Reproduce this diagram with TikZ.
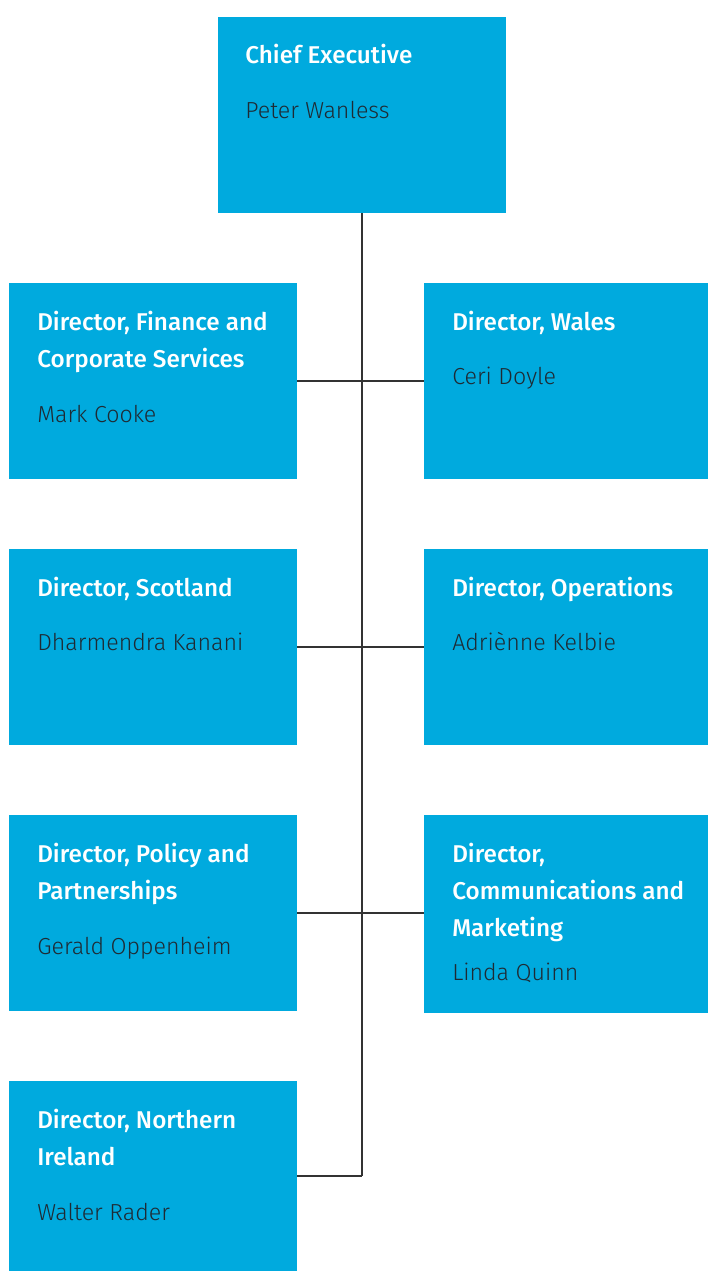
\documentclass[tikz,border=0pt]{standalone}
\usepackage{fontspec}
\setmainfont{Fira Sans}[BoldFont={Fira Sans Medium}]
\newfontfamily\namefont{Fira Sans Light}
\usepackage{xcolor}
\definecolor{postblue}{HTML}{00AADE}
\definecolor{namegray}{HTML}{1F2A33}
\definecolor{linegray}{HTML}{333333}

\tikzset{
  post/.style={fill=postblue, inner sep=0pt, minimum width=216pt, minimum height=147pt},
  posttitle/.style={anchor=base west, inner sep=0pt, align=left, text=white,
    font=\fontsize{18.2pt}{27.75pt}\selectfont\bfseries},
  postname/.style={anchor=base west, inner sep=0pt, text=namegray,
    font=\fontsize{17.4pt}{27.75pt}\namefont},
  link/.style={draw=linegray, line width=1.1pt}
}

\begin{document}
\begin{tikzpicture}[x=0.75pt,y=-0.75pt]
  \useasboundingbox (0,0) rectangle (708,1271);

  % boxes
  \node[post] (ceo) at (362,115) {};
  \node[post] (finance) at (153,381) {};
  \node[post, minimum width=213pt] (wales) at (566,381) {};
  \node[post] (scotland) at (153,647) {};
  \node[post, minimum width=213pt] (operations) at (566,647) {};
  \node[post] (policy) at (153,913) {};
  \node[post, minimum width=213pt, minimum height=148.5pt] (comms) at (566,914) {};
  \node[post, minimum height=142.5pt] (nireland) at (153,1176) {};

  % connectors
  \draw[link] (ceo.south) -- (ceo.south |- nireland.east);
  \draw[link] (finance.east) -- (finance.east -| wales.west);
  \draw[link] (scotland.east) -- (scotland.east -| operations.west);
  \draw[link] (policy.east) -- (policy.east -| comms.west);
  \draw[link] (nireland.east) -- (nireland.east -| ceo.south);

  % texts (title placed at the baseline of its last line)
  \node[posttitle] (ceo-t) at (245,63) {Chief Executive};
  \node[postname] (ceo-n) at (245,118) {Peter Wanless};
  \node[posttitle] (finance-t) at (37,367) {Director, Finance and\\Corporate Services};
  \node[postname] (finance-n) at (37,422) {Mark Cooke};
  \node[posttitle] (wales-t) at (452,330) {Director, Wales};
  \node[postname] (wales-n) at (452,384) {Ceri Doyle};
  \node[posttitle] (scotland-t) at (37,596) {Director, Scotland};
  \node[postname] (scotland-n) at (37,650) {Dharmendra Kanani};
  \node[posttitle] (operations-t) at (452,596) {Director, Operations};
  \node[postname] (operations-n) at (452,650) {Adriènne Kelbie};
  \node[posttitle] (policy-t) at (37,899) {Director, Policy and\\Partnerships};
  \node[postname] (policy-n) at (37,954) {Gerald Oppenheim};
  \node[posttitle] (comms-t) at (452,936) {Director,\\Communications and\\Marketing};
  \node[postname] (comms-n) at (452,980) {Linda Quinn};
  \node[posttitle] (nireland-t) at (37,1165) {Director, Northern\\Ireland};
  \node[postname] (nireland-n) at (37,1220) {Walter Rader};
\end{tikzpicture}
\end{document}
